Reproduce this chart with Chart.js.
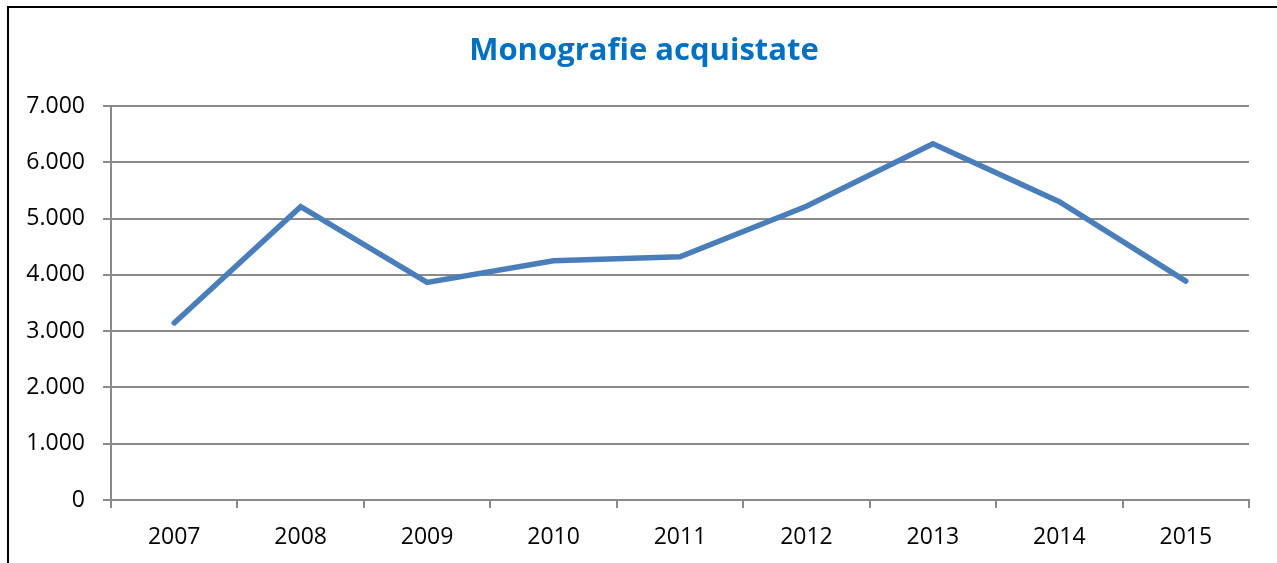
<!DOCTYPE html>
<html>
<head>
<meta charset="utf-8">
<script src="https://cdn.jsdelivr.net/npm/chart.js@4/dist/chart.umd.min.js"></script>
<style>
  html, body { margin: 0; padding: 0; background: #fff; }
  #wrap { position: relative; width: 1277px; height: 563px; overflow: hidden; }
  #frame { position: absolute; left: 7px; top: 6px; width: 1290px; height: 600px;
           border-left: 2px solid #000; border-top: 2px solid #000; box-sizing: border-box; }
  canvas { position: absolute; left: 0; top: 0; }
</style>
</head>
<body>
<div id="wrap">
  <div id="frame"></div>
  <canvas id="c" width="1277" height="563"></canvas>
</div>
<script>
const categories = ['2007', '2008', '2009', '2010', '2011', '2012', '2013', '2014', '2015'];
const monografie = [3146, 5210, 3865, 4250, 4320, 5220, 6330, 5300, 3890];
const yTickValues = [0, 1000, 2000, 3000, 4000, 5000, 6000, 7000];
const yTickLabels = ['0', '1.000', '2.000', '3.000', '4.000', '5.000', '6.000', '7.000'];
const chartTitle = 'Monografie acquistate';

const gridColor = '#8a8a8a';

// Shift the title block so it is centred like in the reference.
const titleShift = {
  id: 'titleShift',
  afterLayout(chart) {
    const t = chart.titleBlock;
    if (t) { t.left += 14.5; t.right += 14.5; }
  }
};

new Chart(document.getElementById('c'), {
  type: 'line',
  data: {
    labels: categories,
    datasets: [{
      label: chartTitle,
      data: monografie,
      borderColor: '#4A7EBB',
      backgroundColor: '#4A7EBB',
      borderWidth: 5.5,
      borderCapStyle: 'round',
      pointRadius: 0,
      pointHoverRadius: 0,
      tension: 0,
      fill: false
    }]
  },
  plugins: [titleShift],
  options: {
    responsive: false,
    animation: false,
    events: [],
    layout: { padding: { left: 10, right: 28, top: 0, bottom: 0 } },
    plugins: {
      legend: { display: false },
      tooltip: { enabled: false },
      title: {
        display: true,
        text: chartTitle,
        color: '#0070C0',
        font: { family: 'Open Sans', size: 31, weight: 'bold', lineHeight: 1.2 },
        padding: { top: 33, bottom: 35.8 }
      }
    },
    scales: {
      x: {
        type: 'category',
        offset: true,
        grid: {
          offset: true,
          drawOnChartArea: false,
          drawTicks: true,
          tickLength: 8,
          color: gridColor,
          lineWidth: 2
        },
        border: { display: true, color: gridColor, width: 2 },
        ticks: {
          color: '#000',
          font: { family: 'Open Sans', size: 23 },
          padding: 16,
          maxRotation: 0,
          autoSkip: false
        },
        afterFit: (scale) => { scale.height = 63; }
      },
      y: {
        min: 0,
        max: 7000,
        afterBuildTicks: (scale) => { scale.ticks = yTickValues.map(v => ({ value: v })); },
        grid: {
          drawOnChartArea: true,
          drawTicks: true,
          tickLength: 8,
          color: gridColor,
          lineWidth: 2
        },
        border: { display: true, color: gridColor, width: 2 },
        ticks: {
          color: '#000',
          font: { family: 'Open Sans', size: 23 },
          padding: 18,
          callback: (value) => {
            const i = yTickValues.indexOf(value);
            return i >= 0 ? yTickLabels[i] : '';
          }
        },
        afterFit: (scale) => { scale.width = 101; }
      }
    }
  }
});
</script>
</body>
</html>
